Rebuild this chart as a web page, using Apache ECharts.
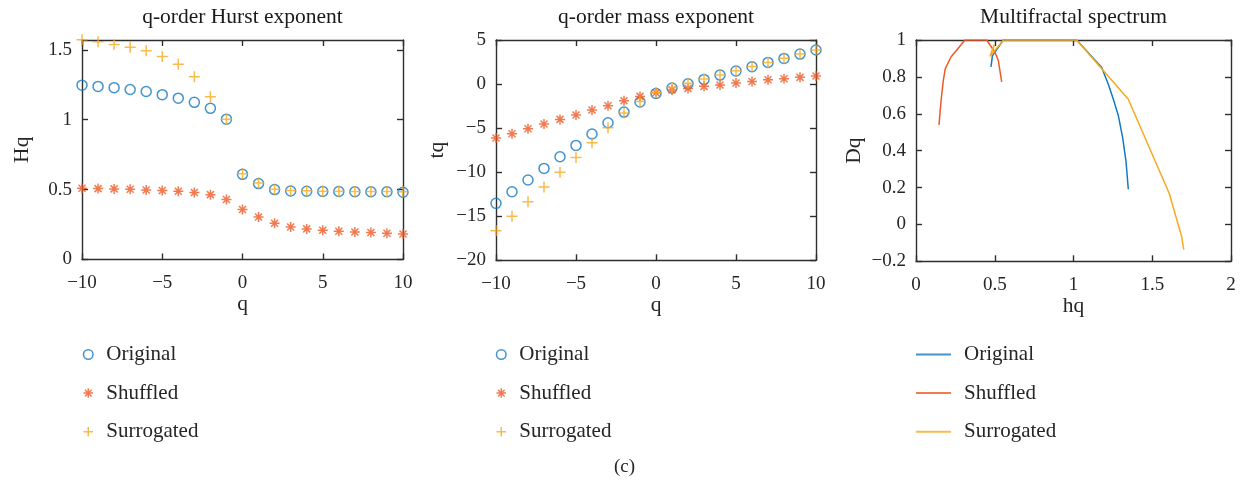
<!DOCTYPE html>
<html>
<head>
<meta charset="utf-8">
<script src="https://cdn.jsdelivr.net/npm/echarts@6/dist/echarts.min.js"></script>
<style>
  html, body { margin: 0; padding: 0; background: #ffffff; }
  #chart { width: 1249px; height: 481px; }
</style>
</head>
<body>
<div id="chart"></div>
<script>
// q orders shared by the Hurst and mass exponent panels
const qValues = [-10, -9, -8, -7, -6, -5, -4, -3, -2, -1, 0, 1, 2, 3, 4, 5, 6, 7, 8, 9, 10];

// q-order Hurst exponent Hq
const hurstOriginal   = [1.247, 1.238, 1.229, 1.216, 1.202, 1.179, 1.154, 1.124, 1.081, 1.004, 0.609, 0.543, 0.500, 0.490, 0.488, 0.486, 0.486, 0.485, 0.485, 0.485, 0.481];
const hurstShuffled   = [0.509, 0.507, 0.505, 0.502, 0.497, 0.493, 0.488, 0.479, 0.464, 0.429, 0.357, 0.304, 0.259, 0.233, 0.219, 0.209, 0.202, 0.197, 0.193, 0.188, 0.183];
const hurstSurrogated = [1.571, 1.557, 1.538, 1.519, 1.493, 1.452, 1.397, 1.307, 1.164, 1.004, 0.614, 0.548, 0.502, 0.493, 0.491, 0.489, 0.488, 0.487, 0.487, 0.486, 0.484];

// q-order mass exponent tq
const massOriginal   = [-13.54, -12.22, -10.89, -9.57, -8.25, -6.96, -5.67, -4.39, -3.18, -2.04, -1.06, -0.45, 0.04, 0.53, 1.02, 1.48, 1.96, 2.46, 2.91, 3.40, 3.86];
const massShuffled   = [-6.13, -5.64, -5.07, -4.54, -4.01, -3.52, -2.95, -2.46, -1.89, -1.40, -0.98, -0.68, -0.49, -0.26, -0.11, 0.11, 0.30, 0.49, 0.60, 0.76, 0.91];
const massSurrogated = [-16.64, -15.00, -13.35, -11.69, -10.02, -8.32, -6.66, -4.96, -3.29, -1.97, -0.98, -0.38, 0.08, 0.57, 1.04, 1.50, 1.98, 2.46, 2.93, 3.40, 3.86];

// Multifractal spectrum: singularity exponent hq and dimension Dq
const spectrumOriginalH   = [1.348, 1.333, 1.312, 1.285, 1.253, 1.221, 1.179, 1.020, 0.554, 0.485, 0.481, 0.476];
const spectrumOriginalD   = [0.191, 0.345, 0.471, 0.589, 0.679, 0.760, 0.851, 1.000, 1.000, 0.914, 0.885, 0.854];
const spectrumShuffledH   = [0.544, 0.533, 0.523, 0.502, 0.449, 0.311, 0.222, 0.186, 0.173, 0.159, 0.146];
const spectrumShuffledD   = [0.773, 0.833, 0.887, 0.932, 1.000, 1.000, 0.908, 0.845, 0.778, 0.670, 0.540];
const spectrumSurrogatedH = [1.700, 1.687, 1.608, 1.348, 1.020, 0.556, 0.470, 0.497, 0.490];
const spectrumSurrogatedD = [-0.136, -0.067, 0.168, 0.679, 1.000, 1.000, 0.912, 0.975, 0.950];

// Tick positions
const qTicks        = [-10, -5, 0, 5, 10];
const hurstTicks    = [0, 0.5, 1, 1.5];
const massTicks     = [-20, -15, -10, -5, 0, 5];
const hqTicks       = [0, 0.5, 1, 1.5, 2];
const dqTicks       = [-0.2, 0, 0.2, 0.4, 0.6, 0.8, 1];

const seriesNames = ['Original', 'Shuffled', 'Surrogated'];
const panelTitles = ['q-order Hurst exponent', 'q-order mass exponent', 'Multifractal spectrum'];

const BLUE = '#1479C2';
const ORANGE = '#EE5A26';
const YELLOW = '#F7A91F';
const colors = [BLUE, ORANGE, YELLOW];

const FONT = '"Liberation Serif", "Times New Roman", serif';
const INK = '#262626';
const AXIS = '#2e2e2e';

const SYM_PLUS = 'path://M0,-1 L0,1 M-1,0 L1,0';
const SYM_STAR = 'path://M0,-1 L0,1 M-1,0 L1,0 M-0.7,-0.7 L0.7,0.7 M-0.7,0.7 L0.7,-0.7';

const grids = [
  { left: 82,  top: 40, width: 321, height: 219.5 },
  { left: 496, top: 40, width: 320, height: 220.3 },
  { left: 916, top: 40, width: 315, height: 221.3 }
].map(g => Object.assign({ containLabel: false, outerBoundsMode: 'none' }, g));

function fmt(v) {
  return String(Math.round(v * 1000) / 1000).replace('-', '\u2212');
}

function axisPair(kind, gridIndex, min, max, interval, ticks, name, nameGap) {
  const common = {
    type: 'value', gridIndex, min, max, interval,
    splitLine: { show: false },
    axisLine: { show: true, onZero: false, lineStyle: { color: AXIS, width: 1.4 } },
    axisTick: { show: true, inside: true, length: 6, customValues: ticks, lineStyle: { color: AXIS, width: 1.4 } },
    silent: true
  };
  const main = Object.assign({}, common, {
    position: kind === 'x' ? 'bottom' : 'left',
    name,
    nameLocation: 'middle',
    nameGap,
    nameRotate: kind === 'x' ? 0 : 90,
    nameMoveOverlap: false,
    nameTextStyle: { fontFamily: FONT, fontSize: 21.5, color: INK },
    axisLabel: {
      show: true, customValues: ticks, formatter: fmt,
      margin: kind === 'x' ? 14 : 10,
      fontFamily: FONT, fontSize: 19, color: INK
    }
  });
  const mirror = Object.assign({}, common, {
    position: kind === 'x' ? 'top' : 'right',
    axisLabel: { show: false }
  });
  return [main, mirror];
}

const xAxes = [
  ...axisPair('x', 0, -10, 10, 5, qTicks, 'q', 34),
  ...axisPair('x', 1, -10, 10, 5, qTicks, 'q', 34),
  ...axisPair('x', 2, 0, 2, 0.5, hqTicks, 'hq', 34)
];
const yAxes = [
  ...axisPair('y', 0, 0, 1.57, 0.5, hurstTicks, 'Hq', 49),
  ...axisPair('y', 1, -20, 5, 5, massTicks, 'tq', 48),
  ...axisPair('y', 2, -0.2, 1, 0.2, dqTicks, 'Dq', 51)
];

const markerStyles = [
  { symbol: 'circle', size: 10 },
  { symbol: SYM_STAR, size: 10 },
  { symbol: SYM_PLUS, size: 11 }
];

function scatterSeries(axisIndex, values, k) {
  return {
    type: 'scatter',
    name: seriesNames[k],
    xAxisIndex: axisIndex, yAxisIndex: axisIndex,
    data: qValues.map((q, i) => [q, values[i]]),
    symbol: markerStyles[k].symbol,
    symbolSize: markerStyles[k].size,
    itemStyle: { color: 'none', borderColor: colors[k], borderWidth: 1.5 },
    clip: false,
    silent: true,
    z: 3 + k
  };
}

function lineSeries(hs, ds, k) {
  return {
    type: 'line',
    name: seriesNames[k],
    xAxisIndex: 4, yAxisIndex: 4,
    data: hs.map((h, i) => [h, ds[i]]),
    showSymbol: false,
    symbol: 'none',
    lineStyle: { color: colors[k], width: 1.5 },
    itemStyle: { color: colors[k] },
    clip: true,
    silent: true,
    z: 3 + k
  };
}

const series = [
  scatterSeries(0, hurstOriginal, 0),
  scatterSeries(0, hurstShuffled, 1),
  scatterSeries(0, hurstSurrogated, 2),
  scatterSeries(2, massOriginal, 0),
  scatterSeries(2, massShuffled, 1),
  scatterSeries(2, massSurrogated, 2),
  lineSeries(spectrumOriginalH, spectrumOriginalD, 0),
  lineSeries(spectrumShuffledH, spectrumShuffledD, 1),
  lineSeries(spectrumSurrogatedH, spectrumSurrogatedD, 2)
];

const legendText = { fontFamily: FONT, fontSize: 21, color: INK, lineHeight: 21 };

function markerLegend(left) {
  return {
    orient: 'vertical', left, top: 344, padding: 0,
    itemWidth: 26, itemHeight: 9.5, itemGap: 17.6,
    selectedMode: false,
    textStyle: legendText,
    data: seriesNames.map((n, k) => ({
      name: n,
      icon: k === 0 ? 'circle' : markerStyles[k].symbol,
      itemStyle: { color: 'none', borderColor: colors[k], borderWidth: 1.5 }
    }))
  };
}

const legends = [
  markerLegend(81),
  markerLegend(494),
  {
    orient: 'vertical', left: 916, top: 344, padding: 0,
    itemWidth: 35, itemHeight: 2, itemGap: 17.6,
    selectedMode: false,
    textStyle: Object.assign({ padding: [0, 0, 0, 8] }, legendText),
    data: seriesNames.map((n, k) => ({
      name: n, icon: 'rect',
      itemStyle: { color: colors[k], borderWidth: 0 }
    }))
  }
];

const titles = panelTitles.map((t, i) => ({
  text: t,
  left: grids[i].left + grids[i].width / 2,
  textAlign: 'center',
  top: 6,
  padding: 0,
  textStyle: { fontFamily: FONT, fontSize: 21.5, fontWeight: 'normal', color: '#1a1a1a' }
}));

const chart = echarts.init(document.getElementById('chart'), null, { renderer: 'canvas' });
chart.setOption({
  backgroundColor: '#ffffff',
  animation: false,
  textStyle: { fontFamily: FONT },
  title: titles,
  grid: grids,
  xAxis: xAxes,
  yAxis: yAxes,
  legend: legends,
  series,
  graphic: [{
    type: 'text',
    left: 614, top: 458,
    style: { text: '(c)', fontFamily: FONT, fontSize: 19, fill: INK }
  }]
});
</script>
</body>
</html>
